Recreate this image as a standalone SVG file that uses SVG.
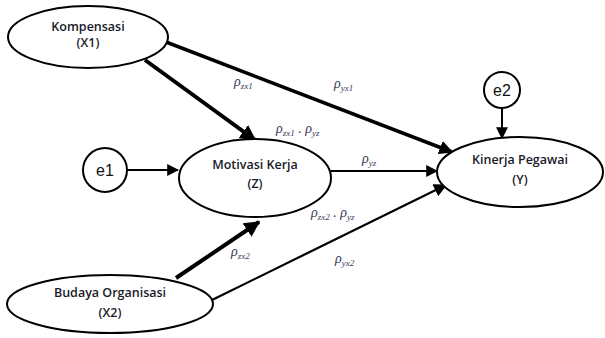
<svg xmlns="http://www.w3.org/2000/svg" width="605" height="338" viewBox="0 0 605 338">
<style>
.node{fill:#fff;stroke:#000;stroke-width:2}
.lbl{font-family:"Open Sans","Liberation Sans",sans-serif;font-size:12.5px;font-weight:600;fill:#1a1a2a;text-anchor:middle}
.err{font-family:"Liberation Sans",sans-serif;font-size:16px;fill:#111;text-anchor:middle}
.rho{font-family:"Liberation Serif",serif;font-style:italic;font-size:14px;fill:#3a3a5c}
.sub{font-size:9px}
.c{stroke:#000;fill:none}
</style>
<defs>
<marker id="ah" viewBox="0 0 10 10" refX="9" refY="5" markerWidth="4" markerHeight="4" orient="auto" markerUnits="strokeWidth">
<path d="M0,0L10,5L0,10z" fill="#000"/>
</marker>
<marker id="ahs" viewBox="0 0 10 10" refX="9" refY="5" markerWidth="6" markerHeight="6" orient="auto" markerUnits="strokeWidth">
<path d="M0,0L10,5L0,10z" fill="#000"/>
</marker>
</defs>
<rect width="605" height="338" fill="#fff"/>
<g id="connectors">
<line class="c" x1="166" y1="42" x2="452" y2="152" stroke-width="3.5" marker-end="url(#ah)"/>
<line class="c" x1="145" y1="60" x2="255" y2="140" stroke-width="4" marker-end="url(#ah)"/>
<line class="c" x1="127" y1="170" x2="178" y2="170" stroke-width="2" marker-end="url(#ahs)"/>
<line class="c" x1="331" y1="171" x2="437" y2="171" stroke-width="2" marker-end="url(#ahs)"/>
<line class="c" x1="176" y1="278" x2="259" y2="222" stroke-width="4" marker-end="url(#ah)"/>
<line class="c" x1="212" y1="300" x2="446" y2="185" stroke-width="2.2" marker-end="url(#ahs)"/>
<line class="c" x1="502" y1="108" x2="502" y2="138" stroke-width="2" marker-end="url(#ahs)"/>
</g>
<g id="labels">
<text class="rho" x="234" y="86">ρ<tspan class="sub" dy="3">zx1</tspan></text>
<text class="rho" x="334" y="88">ρ<tspan class="sub" dy="3">yx1</tspan></text>
<text class="rho" x="276" y="133">ρ<tspan class="sub" dy="3">zx1</tspan><tspan dy="-3"> . ρ</tspan><tspan class="sub" dy="3">yz</tspan></text>
<text class="rho" x="362" y="163">ρ<tspan class="sub" dy="3">yz</tspan></text>
<text class="rho" x="311" y="217">ρ<tspan class="sub" dy="3">zx2</tspan><tspan dy="-3"> . ρ</tspan><tspan class="sub" dy="3">yz</tspan></text>
<text class="rho" x="335" y="263">ρ<tspan class="sub" dy="3">yx2</tspan></text>
<text class="rho" x="231" y="256">ρ<tspan class="sub" dy="3">zx2</tspan></text>
</g>
<g id="kompensasi">
<ellipse class="node" cx="88" cy="37" rx="80" ry="31"/>
<text class="lbl" x="88" y="31">Kompensasi</text>
<text class="lbl" x="88" y="47">(X1)</text>
</g>
<g id="motivasi">
<ellipse class="node" cx="255" cy="178" rx="76" ry="39"/>
<text class="lbl" x="255" y="169">Motivasi Kerja</text>
<text class="lbl" x="255" y="188">(Z)</text>
</g>
<g id="kinerja">
<ellipse class="node" cx="520" cy="172" rx="83" ry="35"/>
<text class="lbl" x="520" y="164">Kinerja Pegawai</text>
<text class="lbl" x="520" y="184">(Y)</text>
</g>
<g id="budaya">
<ellipse class="node" cx="110" cy="304" rx="103" ry="29"/>
<text class="lbl" x="110" y="297">Budaya Organisasi</text>
<text class="lbl" x="110" y="317">(X2)</text>
</g>
<g id="e1">
<circle class="node" cx="105" cy="170" r="22"/>
<text class="err" x="105" y="176">e1</text>
</g>
<g id="e2">
<circle class="node" cx="502" cy="90" r="18"/>
<text class="err" x="502" y="96">e2</text>
</g>
</svg>
